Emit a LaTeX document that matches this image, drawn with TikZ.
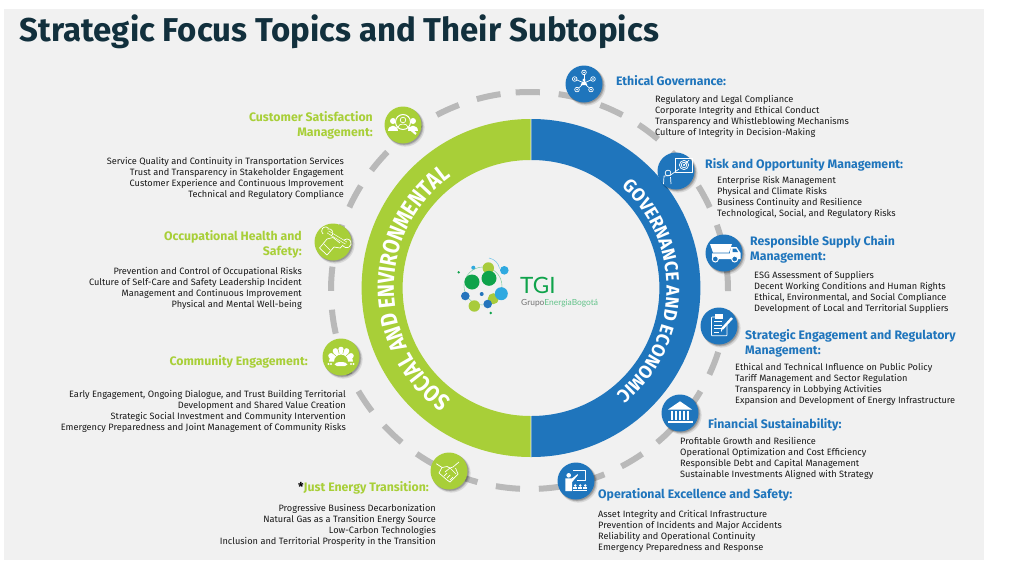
\documentclass[tikz,border=0pt]{standalone}
\usepackage{fontspec}
\setmainfont{Fira Sans}
\newfontfamily\logofont{Lato}
\newfontfamily\ringl{Fira Sans}[FakeStretch=0.84]
\newfontfamily\ringr{Fira Sans}[FakeStretch=0.96]
\usetikzlibrary{decorations.text,calc}
\definecolor{bgc}{HTML}{F1F1F1}
\definecolor{tblue}{HTML}{1F75BC}
\definecolor{tgreen}{HTML}{A8CF38}
\definecolor{dashc}{HTML}{B9B9B9}
\definecolor{titlec}{HTML}{12303D}
\definecolor{lgreen}{HTML}{0FA34B}
\definecolor{lsky}{HTML}{2FA9E0}
\definecolor{lblue}{HTML}{2474BC}
\definecolor{llime}{HTML}{A8CB3C}
\tikzset{
  x=1pt,y=1pt,
  body/.style={inner sep=0pt,font=\fontsize{9.2}{11}\selectfont,text=black!90},
  bodyl/.style={body,anchor=north west,align=left},
  bodyr/.style={body,anchor=north east,align=right},
  headb/.style={inner sep=0pt,font=\fontsize{12.3}{15}\selectfont\bfseries,text=tblue,anchor=north west,align=left},
  headg/.style={inner sep=0pt,font=\fontsize{12.3}{15}\selectfont\bfseries,text=tgreen,anchor=north east,align=right},
  icon/.style={circle,minimum size=37pt,inner sep=0pt,fill=#1},
  ln/.style={draw=white,line width=.7pt,fill=none,line join=round},
  dbl/.style={draw=white,line width=.6pt,double=tgreen,double distance=1.8pt,line cap=butt},
}
\newcommand{\iconnode}[4]{%
  \fill[black,opacity=.10] (#2+2.2,-#3-2.2) circle (19.4);
  \fill[black,opacity=.14] (#2+1.6,-#3-1.6) circle (18.8);
  \fill[black,opacity=.18] (#2+1,-#3-1) circle (18.6);
  \node[icon=#4] (#1) at (#2,-#3) {};
}
\begin{document}
\begin{tikzpicture}
\useasboundingbox (0,0) rectangle (1024,-562);
\fill[bgc] (4,-9) rectangle (984,-560);
\node[anchor=base west,inner sep=0pt,font=\fontsize{33}{36}\selectfont\bfseries,text=titlec] (title) at (19.5,-41) {Strategic Focus Topics and Their Subtopics};

% dashed ring
\coordinate (dc) at (529.5,-290.5);
\foreach \i in {0,...,28}{
  \pgfmathsetmacro{\aa}{94-12.45*\i}
  \pgfmathsetmacro{\bb}{\aa-7}
  \draw[dashc,line width=6pt] ($(dc)+(\aa:198.5)$) arc (\aa:\bb:198.5);
}

% main ring
\coordinate (rc) at (531,-288);
\fill[tgreen] (530.6,-119) arc (90:270:169) -- (530.6,-416) arc (270:90:128) -- cycle;
\fill[tblue] (531.4,-119) arc (90:-90:169) -- (531.4,-416) arc (-90:90:128) -- cycle;
\path[decorate,decoration={text along path,text align=center,
   text={|\ringr\fontsize{18.5}{18.5}\selectfont\bfseries\color{white}|GOVERNANCE AND ECONOMIC}}]
  ($(rc)+(58.5:135.5)$) arc (58.5:-61.5:135.5);
\path[decorate,decoration={text along path,text align=center,
   text={|\ringl\fontsize{23.4}{24}\selectfont\bfseries\color{white}|SOCIAL AND ENVIRONMENTAL}}]
  ($(rc)+(240:137)$) arc (240:120:137);

% logo
\foreach \x/\y/\r/\c in {458.7/272.3/1.3/lgreen,473.3/267.7/2/lsky,504.3/270.3/4.3/lsky,481.7/294/2/lblue,490.7/313/1.3/lgreen}{
  \fill[\c] (\x,-\y) circle (\r);}
\draw[lgreen!60,line width=.4pt] (483,-286) circle (19);
\draw[lsky!70,line width=.5pt] (489,-258) arc (80:10:13);
\foreach \x/\y/\r/\c in {488.3/268/5.7/llime,472/282/7.5/lgreen,489/278.3/7.5/lgreen,465.3/296/4.3/lblue,493.3/298.7/5.5/llime,501.3/293.7/6.5/lsky,487.7/304/4.3/lblue,474.3/306/5.7/llime}{
  \fill[\c] (\x,-\y) circle (\r);}
\node[anchor=base west,inner sep=0pt,font=\logofont\fontsize{22.5}{22}\selectfont,text=lgreen] (tgi) at (520,-293) {TGI};
\node[anchor=base west,inner sep=0pt,font=\logofont\fontsize{8.4}{9}\selectfont] (gpo) at (521,-305) {\textcolor{black!55}{Grupo}\textcolor{lgreen!65}{EnergiaBogotá}};

% icons
\iconnode{ig1}{584}{84}{tblue}
\iconnode{ig2}{676}{171}{tblue}
\iconnode{ig3}{724}{253}{tblue}
\iconnode{ig4}{719}{326}{tblue}
\iconnode{ig5}{680}{413}{tblue}
\iconnode{ig6}{576}{481}{tblue}
\iconnode{ie1}{449}{471}{tgreen}
\iconnode{ie2}{341}{357}{tgreen}
\iconnode{ie3}{333}{242}{tgreen}
\iconnode{ie4}{403}{125}{tgreen}

% network
\begin{scope}[shift={(ig1)}]
  \foreach \x/\y in {0/11.6,-9.3/5,9/5,-7/-5.6,7/-5.6}{
    \draw[ln] (0,1) -- (\x,\y);
    \draw[ln,fill=tblue] (\x,\y) circle (2.3);
    \fill[white] (\x,\y) circle (.9);}
  \fill[white] (0,4) circle (1.7);
  \fill[white] (-3.4,-1.2) -- (3.4,-1.2) -- (1.6,2.5) -- (-1.6,2.5) -- cycle;
\end{scope}
% risk
\begin{scope}[shift={(ig2)}]
  \draw[ln] (-1,-1) -- (16,-1) -- (16,13) -- (-1,13) -- cycle;
  \draw[ln] (8,6) circle (4.6) (8,6) circle (2.8);
  \fill[white] (8,6) circle (1.1);
  \draw[ln] (8,6) -- (13,11);
  \draw[ln] (-8,-2) circle (2.9);
  \draw[ln] (-12.5,-13) -- (-12,-5) -- (-6,-4.5) -- (3,2);
  \draw[ln] (-5,-13) -- (-5.5,-6);
\end{scope}
% truck
\begin{scope}[shift={(ig3)}]
  \fill[white] (-14,9) -- (8,9) -- (5,.5) -- (-11,.5) -- cycle;
  \fill[white] (-12,-.3) -- (6,-.3) -- (6.5,6) -- (12.5,6) -- (16.5,0) -- (16.5,-6) -- (-12,-6) -- cycle;
  \fill[tblue] (8.5,4.5) -- (12,4.5) -- (14,1) -- (8.5,1) -- cycle;
  \draw[white,fill=tblue,line width=1pt] (-8.7,-6) circle (3) (10.7,-6) circle (3);
\end{scope}
% clipboard
\begin{scope}[shift={(ig4)}]
  \draw[ln,rounded corners=.6pt] (-1,9) -- (-7.5,9) -- (-7.5,-9.7) -- (8,-9.7) -- (8,1);
  \fill[white] (-4,12) rectangle (4,7.5);
  \foreach \y in {4.5,1,-2.5}{\draw[ln] (-5,\y) -- (3,\y);}
  \draw[ln] (-5,-6) -- (0,-6);
  \draw[white,line width=2.4pt] (3,-3) -- (13,8);
  \fill[white] (2.2,-6) -- (4,-2) -- (2,-3.6) -- cycle;
\end{scope}
% bank
\begin{scope}[shift={(ig5)}]
  \fill[white] (0,11.7) -- (12,3.5) -- (-12,3.5) -- cycle;
  \foreach \x in {-8,-4,0,4,8}{\fill[white] (\x-1,2.3) rectangle (\x+1,-7);}
  \fill[white] (-12.5,-8) rectangle (12.5,-10);
\end{scope}
% teacher
\begin{scope}[shift={(ig6)}]
  \draw[ln] (-3,10.7) -- (9.3,10.7) -- (9.3,.7) -- (1,.7);
  \fill[white] (-7.3,5.7) circle (2.3);
  \fill[white] (-10.7,2.6) -- (-4,2.6) -- (1.5,6.8) -- (2,6) -- (-3.8,-1) -- (-4,-10) -- (-10.7,-10) -- cycle;
  \foreach \x in {-.7,4.3,9.3}{
    \fill[white] (\x,-4.5) circle (1.4);
    \fill[white] (\x-2,-6.3) rectangle (\x+2,-8);}
  \fill[white] (-2.7,-8.6) rectangle (11.3,-10);
\end{scope}
% handshake
\begin{scope}[shift={(ie1)}]
  \draw[ln] (-12.7,7.3) -- (-7,3.5) -- (-2,4.5) -- (1,3) -- (4,4) -- (10,9);
  \draw[ln] (-7,3.5) -- (-10,-2) -- (-2,-9) -- (1,-11) -- (9,-3) -- (6.5,3);
  \draw[ln] (-4,-1) -- (1,3);
  \draw[ln] (-5,-5) -- (-2,-2) (-2,-7) -- (1,-4) (1,-9) -- (4,-6) (1,3) -- (7,-3);
\end{scope}
% community
\begin{scope}[shift={(ie2)}]
  \foreach \a in {25,60,90,120,155}{\fill[white] ($(0,-3.5)+(\a:11)$) circle (2.8);}
  \fill[white] (-12,-4.5) arc (180:0:12 and 11) -- (7,-4.5) arc (0:180:7 and 7) -- cycle;
  \foreach \a in {42,75,105,138}{\draw[tgreen,line width=.5pt] (0,-3.5) ++(\a:7) -- ++(\a:7);}
  \fill[white] (-6.5,-7.5) arc (180:0:6.5 and 2.5) -- (4,-9) -- (-4,-9) -- cycle;
  \foreach \x in {-12.5,-10,10,12.5}{\fill[white] (\x,-7) circle (1.1);}
\end{scope}
% wrench
\begin{scope}[shift={(ie3)}]
  \draw[dbl] (-5,10) -- (13,-1);
  \draw[ln] (-10,8) arc (230:40:4) (-3,8);
  \draw[ln] (-5.5,13) arc (110:-60:4);
  \draw[ln] (16,-5) arc (-60:130:4.3);
  \draw[ln] (10,-4) arc (220:290:5);
  \draw[ln] (-13.5,-6) -- (-6,3) -- (0,4.5) -- (7,-1);
  \draw[ln] (-13.5,-6) -- (-6,-13) -- (1,-5) -- (7,-6) -- (10,-3);
  \draw[ln] (-9.5,-1.5) -- (-3,-8);
\end{scope}
% customer
\begin{scope}[shift={(ie4)}]
  \fill[white] (-10,4) circle (3) (10,4) circle (3);
  \fill[white] (-15,-6) .. controls (-15,1) and (-5,1) .. (-5,-6) -- cycle;
  \fill[white] (15,-6) .. controls (15,1) and (5,1) .. (5,-6) -- cycle;
  \fill[tgreen] (0,3) circle (8);
  \draw[white,line width=1pt] (0,3) circle (7.5);
  \draw[ln] (0,5) circle (2.8);
  \draw[ln] (-5,-2) .. controls (-4,2) and (4,2) .. (5,-2);
  \draw[white,line width=2.2pt] (5.5,-2.5) -- (13,-9);
\end{scope}

% left texts
\node[headg] (h1) at (373,-111.5) {Customer Satisfaction\\Management:};
\node[bodyr] (b1) at (344,-157) {Service Quality and Continuity in Transportation Services\\Trust and Transparency in Stakeholder Engagement\\Customer Experience and Continuous Improvement\\Technical and Regulatory Compliance};
\node[headg] (h2) at (302,-230.5) {Occupational Health and\\Safety:};
\node[bodyr] (b2) at (302,-267) {Prevention and Control of Occupational Risks\\Culture of Self-Care and Safety Leadership Incident\\Management and Continuous Improvement\\Physical and Mental Well-being};
\node[headg] (h3) at (308,-355.5) {Community Engagement:};
\node[bodyr] (b3) at (346,-390) {Early Engagement, Ongoing Dialogue, and Trust Building Territorial\\Development and Shared Value Creation\\Strategic Social Investment and Community Intervention\\Emergency Preparedness and Joint Management of Community Risks};
\node[headg] (h4) at (429,-481.5) {\textcolor{black}{*}Just Energy Transition:};
\node[bodyr] (b4) at (436,-504) {Progressive Business Decarbonization\\Natural Gas as a Transition Energy Source\\Low-Carbon Technologies\\Inclusion and Territorial Prosperity in the Transition};
% right texts
\node[headb] (h5) at (616,-75.5) {Ethical Governance:};
\node[bodyl] (b5) at (655,-95) {Regulatory and Legal Compliance\\Corporate Integrity and Ethical Conduct\\Transparency and Whistleblowing Mechanisms\\Culture of Integrity in Decision-Making};
\node[headb] (h6) at (705,-158) {Risk and Opportunity Management:};
\node[bodyl] (b6) at (717,-176) {Enterprise Risk Management\\Physical and Climate Risks\\Business Continuity and Resilience\\Technological, Social, and Regulatory Risks};
\node[headb] (h7) at (750,-235) {Responsible Supply Chain\\Management:};
\node[bodyl] (b7) at (754,-271) {ESG Assessment of Suppliers\\Decent Working Conditions and Human Rights\\Ethical, Environmental, and Social Compliance\\Development of Local and Territorial Suppliers};
\node[headb] (h8) at (745,-329) {Strategic Engagement and Regulatory\\Management:};
\node[bodyl] (b8) at (735,-363) {Ethical and Technical Influence on Public Policy\\Tariff Management and Sector Regulation\\Transparency in Lobbying Activities\\Expansion and Development of Energy Infrastructure};
\node[headb] (h9) at (708,-418) {Financial Sustainability:};
\node[bodyl] (b9) at (680,-437) {Profitable Growth and Resilience\\Operational Optimization and Cost Efficiency\\Responsible Debt and Capital Management\\Sustainable Investments Aligned with Strategy};
\node[headb] (h10) at (598,-488) {Operational Excellence and Safety:};
\node[bodyl] (b10) at (598,-510) {Asset Integrity and Critical Infrastructure\\Prevention of Incidents and Major Accidents\\Reliability and Operational Continuity\\Emergency Preparedness and Response};
\end{tikzpicture}
\end{document}
